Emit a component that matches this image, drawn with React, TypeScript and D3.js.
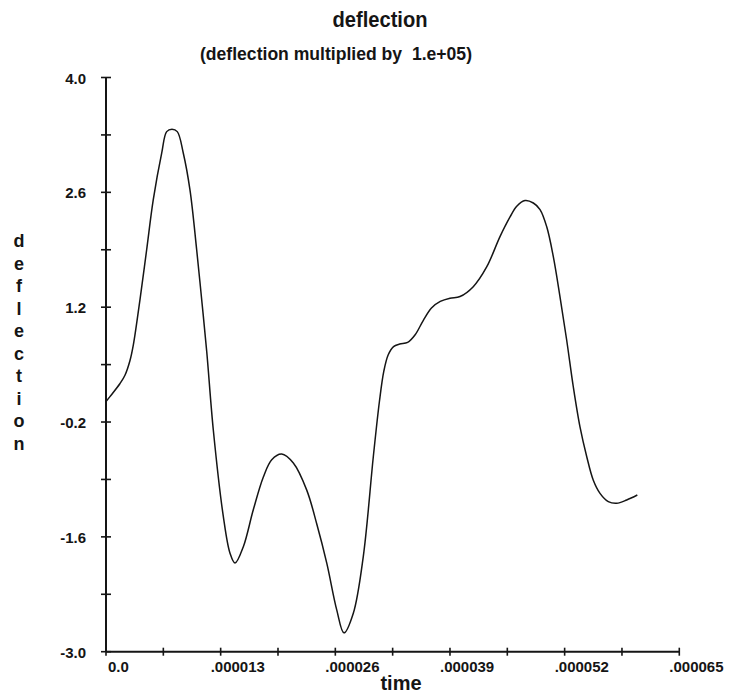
import React from "react";
import * as d3 from "d3";

// time in microseconds (×1e-6 s), deflection ×1e5
const times = [
  0, 0.45, 1.59, 2.15, 2.72, 3.1, 3.85, 4.61, 5.36, 6.32, 6.88, 7.48, 8.08, 8.76, 9.52,
  10.28, 10.85, 11.42, 12.17, 13.3, 14.06, 14.63, 15.57, 16.7, 17.84, 18.79, 19.92,
  21.24, 22.76, 23.89, 25.03, 26.16, 26.98, 28.04, 29.17, 30.31, 31.0, 31.5, 32.0,
  32.6, 33.3, 34.2, 35.03, 35.98, 36.9, 37.9, 39.0, 40.14, 41.64, 43.16, 44.67, 45.81,
  46.57, 47.51, 48.45, 49.21, 49.97, 50.71, 51.47, 52.23, 52.98, 53.74, 54.5, 55.25, 56.01,
  56.95, 57.9, 59.04, 60.24,
];
const deflection = [
  0.05, 0.11, 0.27, 0.37, 0.55, 0.74, 1.29, 1.9, 2.51, 3.08, 3.34, 3.37, 3.34, 3.08, 2.63,
  1.9, 1.29, 0.66, -0.3, -1.35, -1.8, -1.92, -1.72, -1.27, -0.87, -0.66, -0.59,
  -0.7, -1.03, -1.44, -1.92, -2.49, -2.77, -2.53, -1.84, -0.62, 0.05, 0.42, 0.62,
  0.72, 0.75, 0.77, 0.86, 1.04, 1.19, 1.27, 1.31, 1.33, 1.45, 1.69, 2.06, 2.3,
  2.43, 2.5, 2.47, 2.39, 2.18, 1.82, 1.33, 0.8, 0.23, -0.26, -0.62, -0.91, -1.07,
  -1.17, -1.19, -1.15, -1.09,
];

const xMajorTicks = [0, 13, 26, 39, 52, 65];
const xTickLabels = ["0.0", ".000013", ".000026", ".000039", ".000052", ".000065"];
const yMajorTicks = [4.0, 2.6, 1.2, -0.2, -1.6, -3.0];
const yTickLabels = ["4.0", "2.6", "1.2", "-0.2", "-1.6", "-3.0"];

const title = "deflection";
const subtitle = "(deflection multiplied by  1.e+05)";
const xLabel = "time";
const yLabel = "deflection";

export default function App() {
  const W = 731;
  const H = 694;
  const x = d3.scaleLinear().domain([0, 65]).range([106, 679.3]);
  const y = d3.scaleLinear().domain([-3, 4]).range([651.7, 77.5]);

  const pts = times.map((t, i) => [t, deflection[i]] as [number, number]);
  const line = d3
    .line<[number, number]>()
    .x((d) => x(d[0]))
    .y((d) => y(d[1]))
    .curve(d3.curveCatmullRom.alpha(0.5));

  const xMinor = xMajorTicks.slice(0, -1).map((v, i) => (v + xMajorTicks[i + 1]) / 2);
  const yMinor = yMajorTicks.slice(0, -1).map((v, i) => (v + yMajorTicks[i + 1]) / 2);

  const font = "'Liberation Sans', Arial, Helvetica, sans-serif";
  const ink = "#151515";
  const x0 = x(0);
  const y0 = y(-3);

  return (
    <svg
      width={W}
      height={H}
      style={{ position: "absolute", left: 0, top: 0, background: "#fff" }}
      fontFamily={font}
      fontWeight="bold"
    >
      <rect x={0} y={0} width={W} height={H} fill="#fff" />
      <text
        x={380}
        y={26.5}
        textAnchor="middle"
        fontSize={22}
        textLength={95}
        lengthAdjust="spacingAndGlyphs"
        fill={ink}
      >
        {title}
      </text>
      <text
        x={336}
        y={60}
        textAnchor="middle"
        fontSize={18}
        textLength={272}
        lengthAdjust="spacingAndGlyphs"
        fill={ink}
        style={{ whiteSpace: "pre" }}
      >
        {subtitle}
      </text>

      {/* y axis */}
      <line x1={x0} x2={x0} y1={y(4)} y2={y0} stroke={ink} strokeWidth={2} />
      {[...yMajorTicks, ...yMinor].map((v, i) => (
        <line key={"yt" + i} x1={x0 - 5} x2={x0 + 5} y1={y(v)} y2={y(v)} stroke={ink} strokeWidth={1.6} />
      ))}
      {yMajorTicks.map((v, i) => (
        <text key={"yl" + i} x={86} y={y(v) + 6} textAnchor="end" fontSize={15} fill={ink}>
          {yTickLabels[i]}
        </text>
      ))}

      {/* x axis */}
      <line x1={x0} x2={x(65)} y1={y0} y2={y0} stroke={ink} strokeWidth={2} />
      {[...xMajorTicks, ...xMinor].map((v, i) => (
        <line key={"xt" + i} x1={x(v)} x2={x(v)} y1={y0 - 4} y2={y0 + 4} stroke={ink} strokeWidth={1.6} />
      ))}
      {xMajorTicks.map((v, i) => (
        <text
          key={"xl" + i}
          x={x(v) + (xTickLabels[i].startsWith(".") ? -10 : 2)}
          y={672}
          textAnchor="start"
          fontSize={15}
          fill={ink}
        >
          {xTickLabels[i]}
        </text>
      ))}

      <text x={401} y={690} textAnchor="middle" fontSize={20} fill={ink}>
        {xLabel}
      </text>

      {yLabel.split("").map((ch, i) => (
        <text key={"yc" + i} x={19} y={247 + i * 22.5} textAnchor="middle" fontSize={18} fill={ink}>
          {ch}
        </text>
      ))}

      <path d={line(pts) || ""} fill="none" stroke={ink} strokeWidth={1.5} />
    </svg>
  );
}
